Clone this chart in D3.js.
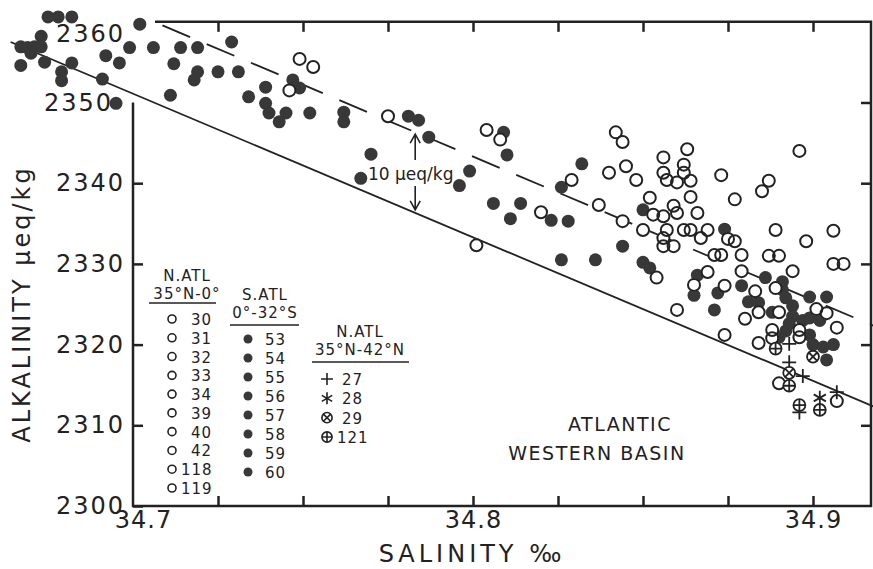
<!DOCTYPE html>
<meta charset="utf-8">
<style>
body { margin: 0; background: #fff; }
svg text { font-family: "DejaVu Sans", sans-serif; fill: #222; }
.frame { stroke: #222; stroke-width: 2.5; fill: none; }
.tick line { stroke: #222; stroke-width: 2.5; }
</style>
<body>
<script src="https://d3js.org/d3.v7.min.js"></script>
<script>

// N.ATL 35N-0 (open circles)
var openSal = [34.749,34.753,34.746,34.775,34.804,34.808,34.829,34.820,34.801,34.837,
  34.842,34.844,34.863,34.856,34.845,34.840,34.862,34.862,34.856,34.857,
  34.860,34.864,34.848,34.873,34.887,34.885,34.896,34.852,34.864,34.877,
  34.844,34.859,34.860,34.856,34.853,34.866,34.850,34.857,34.856,34.862,
  34.864,34.869,34.867,34.856,34.859,34.875,34.877,34.889,34.871,34.873,
  34.879,34.887,34.890,34.898,34.906,34.906,34.909,34.894,34.869,34.879,
  34.854,34.860,34.865,34.874,34.883,34.889,34.880,34.884,34.890,34.901,
  34.904,34.874,34.888,34.888,34.884,34.896,34.896,34.907,34.890,34.907];
var openAlk = [2355.4,2354.4,2351.5,2348.3,2346.6,2345.4,2340.4,2336.4,2332.3,2337.3,
  2346.3,2345.1,2344.2,2343.2,2342.1,2341.3,2342.3,2341.3,2341.3,2340.4,
  2340.1,2340.3,2340.4,2341.0,2340.3,2339.0,2344.0,2338.2,2338.3,2338.0,
  2335.3,2337.2,2336.3,2335.9,2336.1,2336.3,2334.2,2334.2,2333.2,2334.2,
  2334.2,2334.2,2333.2,2332.2,2332.2,2333.1,2332.8,2334.2,2331.1,2331.1,
  2331.1,2331.0,2331.0,2332.8,2334.1,2330.0,2330.0,2329.1,2329.0,2329.1,
  2328.3,2324.3,2327.4,2327.3,2326.6,2327.0,2323.2,2324.0,2324.0,2324.4,
  2323.9,2321.2,2321.8,2320.8,2320.2,2321.8,2320.9,2322.1,2315.2,2313.0];

// S.ATL 0-32S (filled circles)
var fillSal = [34.675,34.678,34.682,34.673,34.667,34.669,34.671,34.673,34.670,34.667,
  34.674,34.682,34.679,34.679,34.691,34.695,34.692,34.696,34.699,34.702,
  34.706,34.714,34.719,34.712,34.719,34.718,34.725,34.731,34.729,34.711,
  34.734,34.739,34.739,34.740,34.743,34.745,34.752,34.747,34.749,34.762,
  34.762,34.781,34.784,34.787,34.770,34.767,34.799,34.796,34.809,34.810,
  34.806,34.814,34.811,34.823,34.828,34.826,34.832,34.826,34.836,34.844,
  34.850,34.850,34.852,34.874,34.866,34.865,34.872,34.871,34.879,34.881,
  34.884,34.886,34.888,34.891,34.891,34.892,34.894,34.894,34.893,34.892,
  34.890,34.899,34.904,34.899,34.902,34.897,34.899,34.900,34.903,34.906,
  34.904];
var fillAlk = [2360.6,2360.6,2360.6,2358.2,2356.9,2356.8,2356.9,2356.9,2356.1,2354.6,
  2355.0,2354.9,2353.8,2352.7,2352.9,2349.9,2355.8,2354.9,2356.8,2359.7,
  2356.8,2356.8,2356.8,2354.8,2353.8,2352.8,2353.8,2353.8,2357.5,2350.9,
  2350.7,2351.9,2349.9,2348.7,2347.6,2348.7,2348.7,2352.8,2351.8,2348.8,
  2347.6,2348.3,2347.8,2345.7,2343.6,2340.6,2341.5,2339.7,2346.3,2343.5,
  2337.5,2337.5,2335.6,2335.4,2335.3,2339.5,2342.4,2330.5,2330.5,2332.2,
  2336.7,2330.2,2329.5,2334.3,2328.6,2326.1,2326.4,2324.3,2327.3,2325.3,
  2325.2,2328.3,2324.0,2327.8,2326.8,2325.8,2324.8,2323.5,2322.6,2321.7,
  2320.9,2325.9,2325.9,2323.3,2323.0,2323.0,2321.2,2320.0,2319.7,2320.0,
  2318.1];

// N.ATL 35N-42N stations
var st27Sal = [34.893,34.893,34.897,34.907,34.896];
var st27Alk = [2320.1,2317.8,2316.1,2314.1,2311.6];
var st28Sal = [34.902];
var st28Alk = [2313.4];
var st29Sal = [34.900,34.893];
var st29Alk = [2318.5,2316.5];
var st121Sal = [34.889,34.893,34.896,34.902];
var st121Alk = [2319.5,2314.9,2312.5,2311.9];

// reference line (solid) and the +10 line (dashed)
var lineSal = [34.664, 34.918];
var lineAlk = [2357.5, 2312.3];
var dashStartSal = 34.7065;
var offset = 10;

var yTicks = [2300,2310,2320,2330,2340,2350,2360];
var xLabels = [34.7,34.8,34.9];
var xMinor = [34.725,34.75,34.775,34.8,34.825,34.85,34.875,34.9];

var legend1 = ["30","31","32","33","34","39","40","42","118","119"];
var legend2 = ["53","54","55","56","57","58","59","60"];
var legend3 = [["plus","27"],["star","28"],["otimes","29"],["oplus","121"]];

var width = 873, height = 569;
var svg = d3.select("body").append("svg")
    .attr("width", width).attr("height", height);

var x = d3.scaleLinear().domain([34.7, 34.9]).range([133, 813]);
var y = d3.scaleLinear().domain([2300, 2360]).range([506, 21.8]);
var xRight = 871;

// frame (broken at top-left where data spills out)
svg.append("path").attr("class", "frame")
  .attr("d", d3.line()([[133, y(2350)], [133, y(2300)], [xRight, y(2300)], [xRight, y(2360)], [155, y(2360)]]));

// left axis
var yAxis = svg.append("g").attr("transform", "translate(133,0)")
  .call(d3.axisLeft(y).tickValues(yTicks).tickSize(-10).tickPadding(8).tickFormat(d3.format("d")));
yAxis.select(".domain").remove();
yAxis.selectAll(".tick").filter(d => d >= 2350).select("line").remove();
yAxis.selectAll("text").style("font-size", "24px").style("letter-spacing", "2px");
yAxis.selectAll(".tick").filter(d => d === 2360).select("text").attr("dy", "0.82em");
yAxis.selectAll(".tick").filter(d => d === 2350).select("text").attr("x", -20);

// right ticks
var rAxis = svg.append("g").attr("transform", "translate(" + xRight + ",0)")
  .call(d3.axisRight(y).tickValues([2310,2320,2330,2340,2350]).tickSize(-10).tickFormat(""));
rAxis.select(".domain").remove();

// bottom axis
var xAxis = svg.append("g").attr("transform", "translate(0," + y(2300) + ")")
  .call(d3.axisBottom(x).tickValues(xMinor).tickSize(-10).tickFormat(""));
xAxis.select(".domain").remove();
var xLab = svg.append("g").attr("transform", "translate(0," + y(2300) + ")")
  .call(d3.axisBottom(x).tickValues(xLabels).tickSize(0).tickPadding(5).tickFormat(d3.format(".1f")));
xLab.select(".domain").remove();
xLab.selectAll("text").style("font-size", "24px").style("letter-spacing", "1px");
xLab.selectAll(".tick").filter(d => d === 34.7).select("text").attr("x", 10);

// top ticks
var tAxis = svg.append("g").attr("transform", "translate(0," + y(2360) + ")")
  .call(d3.axisTop(x).tickValues(xMinor).tickSize(-10).tickFormat(""));
tAxis.select(".domain").remove();

// axis titles
svg.append("text")
  .attr("transform", "translate(30,304) rotate(-90)")
  .attr("text-anchor", "middle")
  .style("font-size", "24px").style("letter-spacing", "3px")
  .text("ALKALINITY μeq/kg");
svg.append("text")
  .attr("x", 472).attr("y", 562)
  .attr("text-anchor", "middle")
  .style("font-size", "24px").style("letter-spacing", "4px")
  .text("SALINITY ‰");

// reference lines
var slope = (lineAlk[1] - lineAlk[0]) / (lineSal[1] - lineSal[0]);
function refAlk(s) { return lineAlk[0] + (s - lineSal[0]) * slope; }
svg.append("line")
  .attr("x1", x(lineSal[0])).attr("y1", y(lineAlk[0]))
  .attr("x2", x(lineSal[1])).attr("y2", y(lineAlk[1]))
  .attr("stroke", "#222").attr("stroke-width", 1.8);
svg.append("line")
  .attr("x1", x(dashStartSal)).attr("y1", y(refAlk(dashStartSal) + offset))
  .attr("x2", x(lineSal[1])).attr("y2", y(lineAlk[1] + offset))
  .attr("stroke", "#222").attr("stroke-width", 1.8)
  .attr("stroke-dasharray", "30,18").attr("stroke-dashoffset", -8);

// 10 ueq/kg marker
var arrowSal = 34.783;
var ax = x(arrowSal), yTop = y(refAlk(arrowSal) + offset), yBot = y(refAlk(arrowSal));
var arrows = svg.append("g").attr("stroke", "#222").attr("stroke-width", 1.6).attr("fill", "none");
arrows.append("path").attr("d", `M${ax},${yTop + 2}V160M${ax - 5},${yTop + 11}L${ax},${yTop + 2}L${ax + 5},${yTop + 11}`);
arrows.append("path").attr("d", `M${ax},186V${yBot - 3}M${ax - 5},${yBot - 12}L${ax},${yBot - 3}L${ax + 5},${yBot - 12}`);
svg.append("text").attr("x", 368).attr("y", 180)
  .style("font-size", "17px").text("10 μeq/kg");

// region label
svg.append("text").attr("x", 620).attr("y", 431).attr("text-anchor", "middle")
  .style("font-size", "19px").style("letter-spacing", "1.5px").text("ATLANTIC");
svg.append("text").attr("x", 597).attr("y", 460).attr("text-anchor", "middle")
  .style("font-size", "19px").style("letter-spacing", "1.5px").text("WESTERN BASIN");

// data
var R = 6.5;
var fillPts = fillSal.map((s, i) => [s, fillAlk[i]]);
var openPts = openSal.map((s, i) => [s, openAlk[i]]);

svg.append("g").selectAll("circle").data(fillPts).enter().append("circle")
  .attr("cx", d => x(d[0])).attr("cy", d => y(d[1])).attr("r", R)
  .attr("fill", "#383838");
svg.append("g").selectAll("circle").data(openPts).enter().append("circle")
  .attr("cx", d => x(d[0])).attr("cy", d => y(d[1])).attr("r", R)
  .attr("fill", "#fff");
svg.append("g").selectAll("circle").data(openPts).enter().append("circle")
  .attr("cx", d => x(d[0])).attr("cy", d => y(d[1])).attr("r", R - 0.5)
  .attr("fill", "none").attr("stroke", "#222").attr("stroke-width", 2);

function symbol(g, type, cx, cy, s) {
  var p = "";
  if (type === "plus") {
    p = `M${cx - s},${cy}H${cx + s}M${cx},${cy - s}V${cy + s}`;
  } else if (type === "star") {
    for (var k = 0; k < 3; k++) {
      var a = Math.PI / 2 + k * Math.PI / 3;
      p += `M${cx - s * Math.cos(a)},${cy - s * Math.sin(a)}L${cx + s * Math.cos(a)},${cy + s * Math.sin(a)}`;
    }
  } else if (type === "oplus" || type === "otimes") {
    var r = s * 0.85, q = type === "oplus" ? r : r * 0.7071;
    g.append("circle").attr("cx", cx).attr("cy", cy).attr("r", r).attr("fill", "#fff");
    p = type === "oplus"
      ? `M${cx - q},${cy}H${cx + q}M${cx},${cy - q}V${cy + q}`
      : `M${cx - q},${cy - q}L${cx + q},${cy + q}M${cx - q},${cy + q}L${cx + q},${cy - q}`;
  }
  g.append("path").attr("d", p);
}

var symG = svg.append("g").attr("stroke", "#222").attr("stroke-width", 1.8).attr("fill", "none");
[[st27Sal, st27Alk, "plus"], [st28Sal, st28Alk, "star"], [st29Sal, st29Alk, "otimes"], [st121Sal, st121Alk, "oplus"]]
  .forEach(function(sr) {
    sr[0].forEach(function(s, i) { symbol(symG, sr[2], x(s), y(sr[1][i]), 7); });
  });

// legend
var lg = svg.append("g").style("font-size", "15px").style("letter-spacing", "1px");
function header(cx, y1, t1, t2, x1, x2, uy) {
  lg.append("text").attr("x", cx).attr("y", y1).attr("text-anchor", "middle").text(t1);
  lg.append("text").attr("x", cx).attr("y", y1 + 18).attr("text-anchor", "middle").text(t2);
  lg.append("line").attr("x1", x1).attr("x2", x2).attr("y1", uy).attr("y2", uy)
    .attr("stroke", "#222").attr("stroke-width", 1.6);
}
header(187, 281, "N.ATL", "35°N-0°", 149, 216, 303);
header(265, 300, "S.ATL", "0°-32°S", 230, 299, 325);
header(360, 337, "N.ATL", "35°N-42°N", 312, 409, 362);

var row1 = d3.scaleLinear().domain([0, 9]).range([319, 488]);
legend1.forEach(function(t, i) {
  lg.append("circle").attr("cx", 172).attr("cy", row1(i)).attr("r", 4)
    .attr("fill", "none").attr("stroke", "#222").attr("stroke-width", 1.6);
  lg.append("text").attr("x", t.length > 2 ? 181 : 191).attr("y", row1(i) + 6).text(t);
});
var row2 = d3.scaleLinear().domain([0, 7]).range([339, 472]);
legend2.forEach(function(t, i) {
  lg.append("circle").attr("cx", 248).attr("cy", row2(i)).attr("r", 4.5).attr("fill", "#383838");
  lg.append("text").attr("x", 265).attr("y", row2(i) + 6).text(t);
});
var row3 = d3.scaleLinear().domain([0, 3]).range([379, 437]);
var lgSym = lg.append("g").attr("stroke", "#222").attr("stroke-width", 1.6).attr("fill", "none");
legend3.forEach(function(t, i) {
  symbol(lgSym, t[0], 327, row3(i), 6);
  lg.append("text").attr("x", t[1].length > 2 ? 337 : 342).attr("y", row3(i) + 6).text(t[1]);
});

</script>
</body>
